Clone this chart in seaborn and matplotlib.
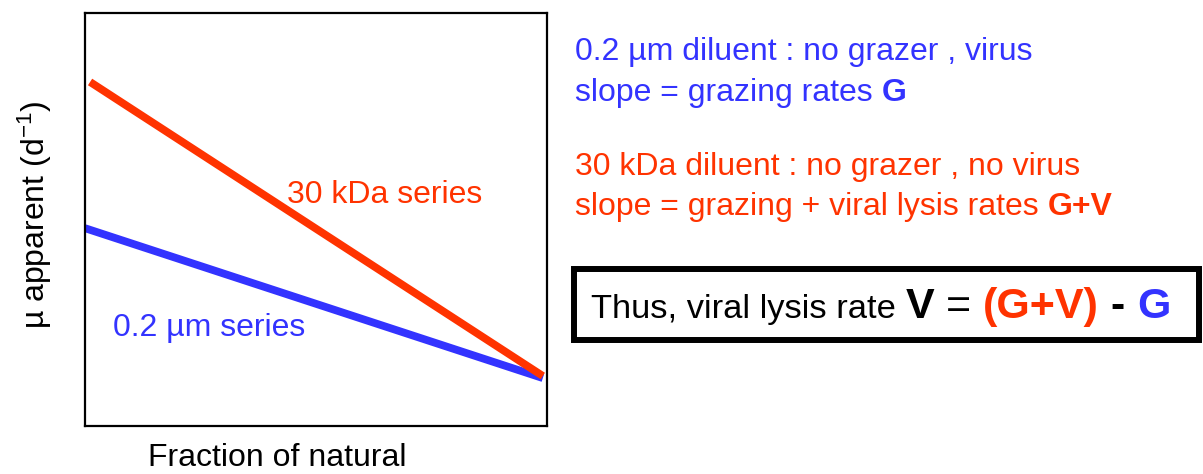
import matplotlib
matplotlib.use("Agg")
import matplotlib.pyplot as plt
from matplotlib.patches import Rectangle
import seaborn as sns
import pandas as pd

# ---- data ----
fraction = [0.011, 0.991]
mu_30kda = [0.833, 0.121]
frac_02 = [0.0, 0.991]
mu_02um = [0.479, 0.116]
series_names = ["30 kDa series", "0.2 µm series"]

BLUE = "#3333FF"
RED = "#FF3300"

sns.set_theme(style="white")
plt.rcParams['font.family'] = ['Liberation Sans', 'DejaVu Sans']
plt.rcParams['mathtext.fontset'] = 'custom'
plt.rcParams['mathtext.rm'] = 'Liberation Sans'
plt.rcParams['mathtext.it'] = 'Liberation Sans'

W, H = 1203, 474
fig = plt.figure(figsize=(W / 100, H / 100), dpi=100)
ax = fig.add_axes([85 / W, 1 - 426 / H, (547 - 85) / W, (426 - 13) / H])

df = pd.DataFrame({
    "x": fraction + frac_02,
    "mu": mu_30kda + mu_02um,
    "series": [series_names[0]] * 2 + [series_names[1]] * 2,
})
sns.lineplot(data=df, x="x", y="mu", hue="series",
             palette={series_names[0]: RED, series_names[1]: BLUE},
             linewidth=5.6, ax=ax, legend=False, solid_capstyle="butt")
for ln in ax.get_lines():
    if ln.get_color().lower() == RED.lower():
        ln.set_zorder(5)

ax.set_xlim(0, 1)
ax.set_ylim(0, 1)
ax.set_xticks([])
ax.set_yticks([])
ax.set_xlabel("")
ax.set_ylabel("")
for s in ax.spines.values():
    s.set_visible(True)
    s.set_color("black")
    s.set_linewidth(1.6)

FS = 23
ax.text(0.437, 0.54, series_names[0], color=RED, fontsize=FS, ha="left", va="baseline")
ax.text(0.061, 0.218, series_names[1], color=BLUE, fontsize=FS, ha="left", va="baseline")

fig.text(35 / W, 1 - 215 / H, "µ apparent (d$^{-1}$)", rotation=90,
         ha="center", va="center", fontsize=FS, color="black")
fig.text(277 / W, 1 - 466 / H, "Fraction of natural", ha="center",
         va="baseline", fontsize=FS, color="black")

fig.canvas.draw()
renderer = fig.canvas.get_renderer()


def piece_width(s, size, weight):
    t1 = fig.text(0, 0, "x" + s + "x", fontsize=size, fontweight=weight)
    t2 = fig.text(0, 0, "xx", fontsize=size, fontweight=weight)
    w = t1.get_window_extent(renderer).width - t2.get_window_extent(renderer).width
    t1.remove()
    t2.remove()
    return w


def rich_line(x_px, base_px, pieces):
    x = x_px
    for s, color, size, weight in pieces:
        fig.text(x / W, 1 - base_px / H, s, color=color, fontsize=size,
                 fontweight=weight, ha="left", va="baseline")
        x += piece_width(s, size, weight)


rich_line(575, 60, [("0.2 µm diluent : no grazer , virus", BLUE, FS, "normal")])
rich_line(575, 101, [("slope = grazing rates ", BLUE, FS, "normal"),
                     ("G", BLUE, FS, "bold")])
rich_line(575, 175, [("30 kDa diluent : no grazer , no virus", RED, FS, "normal")])
rich_line(575, 215, [("slope = grazing + viral lysis rates ", RED, FS, "normal"),
                     ("G+V", RED, FS, "bold")])

BIG = 31
rich_line(591, 318, [("Thus, viral lysis rate ", "black", 24.8, "normal"),
                     ("V", "black", BIG, "bold"),
                     (" = ", "black", BIG, "normal"),
                     ("(G+V)", RED, BIG, "bold"),
                     (" - ", "black", BIG, "bold"),
                     ("G", BLUE, BIG, "bold")])

fig.add_artist(Rectangle((574 / W, 1 - 340 / H), (1199 - 574) / W, (340 - 269) / H,
                         transform=fig.transFigure, fill=False,
                         edgecolor="black", linewidth=4.3))

fig.savefig("out.png", dpi=100)
